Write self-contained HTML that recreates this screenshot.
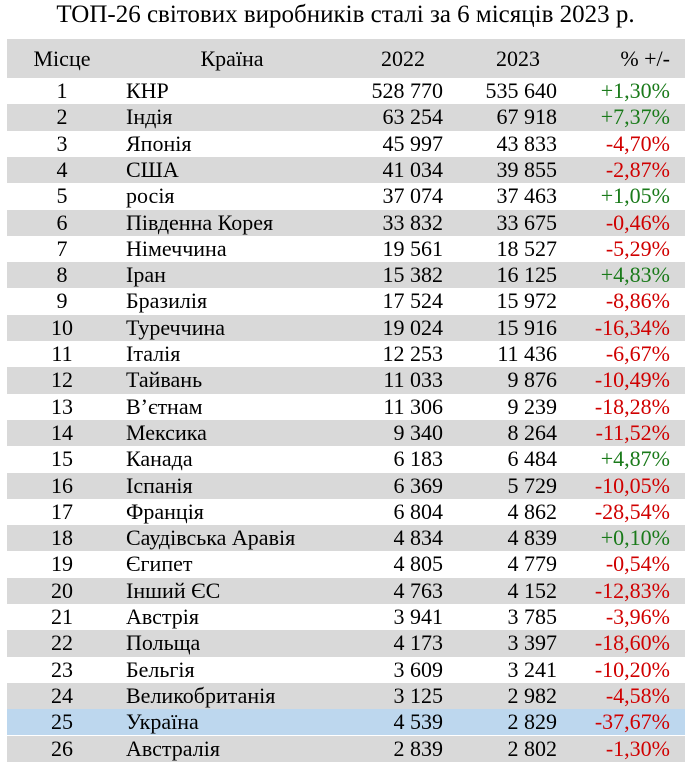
<!DOCTYPE html>
<html><head><meta charset="utf-8"><style>
body{margin:0;width:691px;height:770px;background:#fff;font-family:"Liberation Serif",serif;color:#000;overflow:hidden}
.t{position:absolute;top:1px;left:0;width:691px;text-align:center;font-size:25px}
.r{position:absolute;left:7px;width:678px;height:26.3px;font-size:22px;line-height:26.3px}
.r span{position:absolute;top:0;white-space:nowrap}
.a{left:0;width:110px;text-align:center}
.b{left:119px}
.c{right:242px}
.d{right:128px}
.e{right:15px}
.g{background:#d9d9d9}
.u{background:#bdd7ee}
.p{color:#1a7a1a}.m{color:#d00000}
.h{top:39px;height:39px;line-height:39px}
</style></head><body>
<div class="t">ТОП-26 світових виробників сталі за 6 місяців 2023 р.</div>
<div class="r g h"><span class="a">Місце</span><span style="left:125px;width:200px;text-align:center">Країна</span><span style="right:260px">2022</span><span style="right:145px">2023</span><span class="e">% +/-</span></div>
<div id="rows"></div>
<script>
const d=[["КНР","528 770","535 640","+1,30%"],["Індія","63 254","67 918","+7,37%"],["Японія","45 997","43 833","-4,70%"],["США","41 034","39 855","-2,87%"],["росія","37 074","37 463","+1,05%"],["Південна Корея","33 832","33 675","-0,46%"],["Німеччина","19 561","18 527","-5,29%"],["Іран","15 382","16 125","+4,83%"],["Бразилія","17 524","15 972","-8,86%"],["Туреччина","19 024","15 916","-16,34%"],["Італія","12 253","11 436","-6,67%"],["Тайвань","11 033","9 876","-10,49%"],["В’єтнам","11 306","9 239","-18,28%"],["Мексика","9 340","8 264","-11,52%"],["Канада","6 183","6 484","+4,87%"],["Іспанія","6 369","5 729","-10,05%"],["Франція","6 804","4 862","-28,54%"],["Саудівська Аравія","4 834","4 839","+0,10%"],["Єгипет","4 805","4 779","-0,54%"],["Інший ЄС","4 763","4 152","-12,83%"],["Австрія","3 941","3 785","-3,96%"],["Польща","4 173","3 397","-18,60%"],["Бельгія","3 609","3 241","-10,20%"],["Великобританія","3 125","2 982","-4,58%"],["Україна","4 539","2 829","-37,67%"],["Австралія","2 839","2 802","-1,30%"]];
let h="";d.forEach((r,i)=>{const n=i+1;const cls=n==25?"u":(n%2==0?"g":"");
h+=`<div class="r ${cls}" style="top:${78+i*26.3}px"><span class="a">${n}</span><span class="b">${r[0]}</span><span class="c">${r[1]}</span><span class="d">${r[2]}</span><span class="e ${r[3][0]=="+"?"p":"m"}">${r[3]}</span></div>`});
document.getElementById("rows").innerHTML=h;
</script>
</body></html>
